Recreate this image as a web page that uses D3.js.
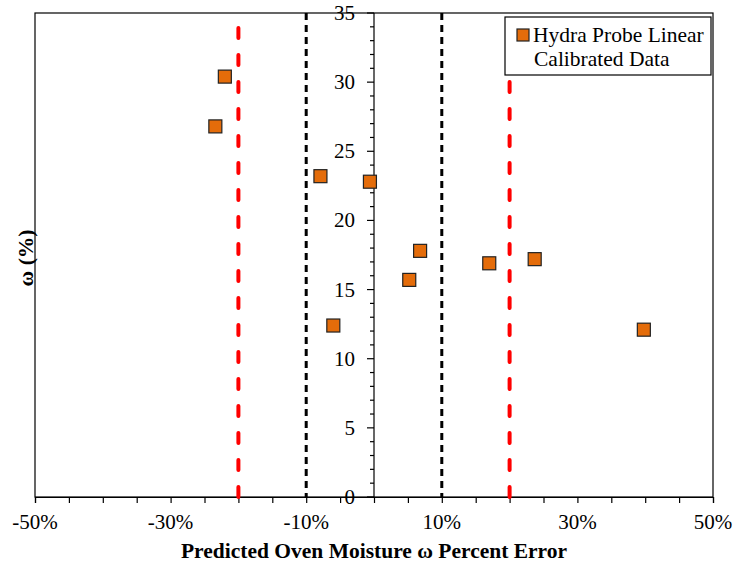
<!DOCTYPE html>
<html>
<head>
<meta charset="utf-8">
<script src="https://cdn.jsdelivr.net/npm/d3@7"></script>
<style>
  html, body { margin: 0; padding: 0; background: #fff; }
  svg { display: block; }
  svg text { font-family: 'Liberation Serif', serif; }
</style>
</head>
<body>
<svg id="chart" width="734" height="569" font-family="Liberation Serif"></svg>
<script>
// ---- data ----
const percentError = [-22.0, -23.4, -7.9, -0.6, -6.0, 6.8, 5.2, 17.0, 23.7, 39.8];
const moisture     = [30.4, 26.8, 23.2, 22.8, 12.4, 17.8, 15.7, 16.9, 17.2, 12.1];
const xTickLabels  = [-50, -30, -10, 10, 30, 50];
const yTickLabels  = [0, 5, 10, 15, 20, 25, 30, 35];
const redLimits    = [-20, 20];
const blackLimits  = [-10, 10];
const seriesName   = ["Hydra Probe Linear", "Calibrated Data"];

// ---- layout ----
const FONT = "Liberation Serif";
const svg = d3.select("#chart");
const L = 35, R = 713, T = 13, B = 497;
const x = d3.scaleLinear().domain([-50, 50]).range([L, R]);
const y = d3.scaleLinear().domain([0, 35]).range([B, T]);

// plot frame
svg.append("rect").attr("x", L).attr("y", T).attr("width", R - L).attr("height", B - T)
  .attr("fill", "none").attr("stroke", "#000").attr("stroke-width", 1.2);

// x axis (at y=0)
const xAxis = d3.axisBottom(x).tickValues(d3.range(-50, 50.1, 5)).tickSize(6).tickFormat("");
const gx = svg.append("g").attr("transform", `translate(0,${B})`).call(xAxis);
gx.select(".domain").attr("stroke", "#000").attr("stroke-width", 1.2);
gx.selectAll(".tick line").attr("stroke", "#000").attr("stroke-width", 1.2);
svg.append("g").selectAll("text").data(xTickLabels).join("text")
  .attr("x", d => x(d)).attr("y", 529).attr("font-family", FONT)
  .attr("text-anchor", "middle").attr("font-size", 21).attr("fill", "#000")
  .text(d => d + "%");

// limit lines
svg.append("g").selectAll("line").data(blackLimits).join("line")
  .attr("x1", d => x(d)).attr("x2", d => x(d)).attr("y1", T).attr("y2", B)
  .attr("stroke", "#000").attr("stroke-width", 3).attr("stroke-dasharray", "7,5");
svg.append("g").selectAll("line").data(redLimits).join("line")
  .attr("x1", d => x(d)).attr("x2", d => x(d)).attr("y1", B).attr("y2", T)
  .attr("stroke", "#ff0000").attr("stroke-width", 4).attr("stroke-linecap", "round")
  .attr("stroke-dasharray", "10,17").attr("stroke-dashoffset", 0);

// y axis at x=0
const gy = svg.append("g").attr("transform", `translate(${x(0)},0)`);
gy.append("line").attr("x1", 0).attr("x2", 0).attr("y1", T).attr("y2", B)
  .attr("stroke", "#000").attr("stroke-width", 1.2);
gy.selectAll("line.minor").data(d3.range(0, 35.1, 1)).join("line").attr("class", "minor")
  .attr("x1", d => d % 5 === 0 ? -7 : -4).attr("x2", 0)
  .attr("y1", d => y(d)).attr("y2", d => y(d))
  .attr("stroke", "#000").attr("stroke-width", 1.2);
gy.selectAll("text").data(yTickLabels).join("text")
  .attr("x", -19).attr("y", d => y(d) + 7).attr("font-family", FONT)
  .attr("text-anchor", "end").attr("font-size", 21).attr("fill", "#000")
  .text(d => d);

// points
svg.append("g").selectAll("rect").data(percentError.map((v, i) => [v, moisture[i]])).join("rect")
  .attr("x", d => x(d[0]) - 6.5).attr("y", d => y(d[1]) - 6.5)
  .attr("width", 13).attr("height", 13)
  .attr("fill", "#E46C0A").attr("stroke", "#222").attr("stroke-width", 1.2);

// legend
const lg = svg.append("g");
lg.append("rect").attr("x", 505).attr("y", 17).attr("width", 206).attr("height", 58)
  .attr("fill", "#fff").attr("stroke", "#000").attr("stroke-width", 1.2);
lg.append("rect").attr("x", 517).attr("y", 29).attr("width", 12).attr("height", 12)
  .attr("fill", "#E46C0A").attr("stroke", "#222").attr("stroke-width", 1.2);
lg.append("text").attr("x", 533).attr("y", 42).attr("font-family", FONT).attr("font-size", 21.5).text(seriesName[0]);
lg.append("text").attr("x", 534).attr("y", 66).attr("font-family", FONT).attr("font-size", 21.5).text(seriesName[1]);

// axis titles
svg.append("text").attr("x", x(0)).attr("y", 558).attr("text-anchor", "middle").attr("font-family", FONT)
  .attr("font-size", 21.5).attr("font-weight", "bold").text("Predicted Oven Moisture ω Percent Error");
svg.append("text").attr("transform", "translate(33,258) rotate(-90)").attr("text-anchor", "middle").attr("font-family", FONT)
  .attr("font-size", 21.5).attr("font-weight", "bold").text("ω (%)");
</script>
</body>
</html>
